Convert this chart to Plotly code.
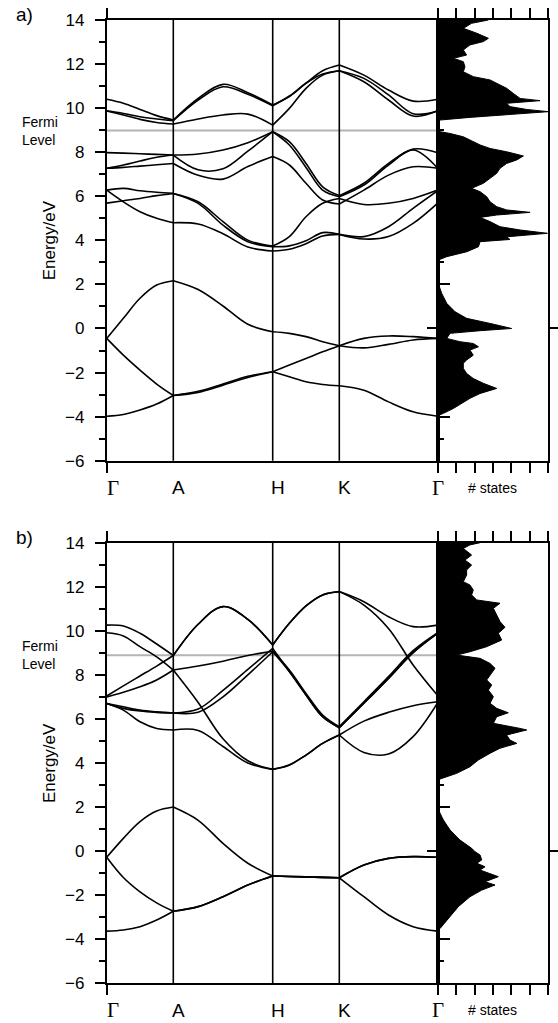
import plotly.graph_objects as go

W, H = 558, 1023

# ---------------- k-path (relative path length), 4 samples per segment ----------------
K_PATH = [0.0, 0.1665, 0.333, 0.4995, 0.666,
          0.9145, 1.163, 1.4115, 1.660,
          1.8265, 1.993, 2.1595, 2.326,
          2.572, 2.818, 3.064, 3.310]
K_NODES = [0.0, 0.666, 1.660, 2.326, 3.310]
K_LABELS = ["Γ", "A", "H", "K", "Γ"]
K_LABEL_SHIFT = [6, 5, 5, 5, 0]

E_RANGE = [-6, 14]
DOS_RANGE = [0, 6]
E_FERMI_A = 8.98
E_FERMI_B = 8.89

# ---------------- panel a) band energies (eV) along Γ-A-H-K-Γ ----------------
A_T1 = [10.40, 10.22, 9.94, 9.66, 9.46, 10.44, 11.08, 10.70, 10.14, 10.52, 11.13, 11.70, 11.96, 11.50, 10.82, 10.32, 10.40]
A_T2 = [9.88, 9.76, 9.61, 9.51, 9.43, 10.37, 10.97, 10.63, 10.11, 10.55, 11.13, 11.55, 11.70, 11.20, 10.37, 9.64, 9.88]
A_T3 = [9.87, 9.69, 9.49, 9.35, 9.28, 9.51, 9.69, 9.73, 9.23, 9.99, 10.90, 11.50, 11.70, 11.35, 10.60, 9.75, 9.87]
A_B1 = [7.98, 7.96, 7.93, 7.90, 7.87, 7.92, 8.10, 8.43, 8.93, 8.48, 7.49, 6.43, 6.03, 6.59, 7.49, 8.14, 7.98]
A_B2 = [7.27, 7.42, 7.60, 7.77, 7.87, 7.20, 7.25, 8.05, 8.93, 8.33, 7.31, 6.28, 5.98, 6.51, 7.42, 8.10, 7.27]
A_B3 = [7.27, 7.31, 7.37, 7.43, 7.49, 6.95, 6.78, 7.35, 7.80, 7.42, 6.59, 5.83, 5.65, 6.28, 6.96, 7.34, 7.27]
A_B4 = [6.28, 6.36, 6.25, 6.18, 6.13, 5.75, 4.85, 4.01, 3.74, 4.17, 5.07, 5.68, 5.90, 5.63, 5.68, 5.90, 6.28]
A_B5 = [5.69, 5.80, 5.90, 6.03, 6.13, 5.68, 4.69, 3.94, 3.71, 3.75, 3.98, 4.35, 4.27, 4.06, 4.17, 4.77, 5.69]
A_B6 = [6.28, 5.75, 5.30, 5.00, 4.80, 4.74, 4.30, 3.70, 3.52, 3.60, 3.85, 4.20, 4.27, 4.17, 4.62, 5.45, 6.25]
A_L1 = [-3.98, -3.90, -3.70, -3.43, -3.04, -2.90, -2.57, -2.22, -1.96, -2.19, -2.42, -2.54, -2.60, -2.80, -3.33, -3.78, -3.98]
A_L2 = [-0.45, -1.21, -1.89, -2.52, -3.04, -2.85, -2.52, -2.17, -1.96, -1.66, -1.36, -1.06, -0.78, -0.88, -0.72, -0.52, -0.45]
A_L3 = [-0.45, 0.46, 1.37, 1.97, 2.17, 1.77, 1.02, 0.19, -0.15, -0.22, -0.37, -0.60, -0.78, -0.45, -0.34, -0.37, -0.45]
BANDS_A = [A_T1, A_T2, A_T3, A_B1, A_B2, A_B3, A_B4, A_B5, A_B6, A_L1, A_L2, A_L3]

# ---------------- panel b) band energies (eV) ----------------
B_P1 = [10.26, 10.22, 9.89, 9.40, 8.88, 10.30, 11.10, 10.52, 9.36, 10.34, 11.13, 11.63, 11.78, 11.32, 10.64, 10.19, 10.26]
B_P2 = [9.91, 9.77, 9.28, 8.82, 8.22, 6.75, 5.10, 4.10, 3.71, 3.91, 4.36, 4.89, 5.27, 4.48, 4.41, 5.20, 6.74]
B_P3 = [7.04, 7.50, 7.95, 8.40, 8.88, 10.30, 11.10, 10.52, 9.36, 10.34, 11.13, 11.63, 11.78, 11.17, 10.11, 8.45, 7.06]
B_P4 = [7.00, 7.21, 7.46, 7.77, 8.22, 8.40, 8.62, 8.88, 9.08, 8.22, 7.16, 6.18, 5.65, 6.78, 7.92, 9.10, 9.92]
B_P5 = [6.70, 6.48, 6.36, 6.30, 6.27, 6.30, 7.00, 8.00, 9.05, 8.15, 7.09, 6.10, 5.60, 6.71, 7.84, 9.01, 9.89]
B_P6 = [6.70, 6.40, 5.87, 5.57, 5.50, 5.48, 4.75, 4.00, 3.71, 3.91, 4.36, 4.89, 5.27, 5.90, 6.30, 6.60, 6.78]
B_P7 = [6.70, 6.55, 6.40, 6.32, 6.27, 6.45, 7.30, 8.25, 9.20, 8.15, 7.09, 6.10, 5.60, 6.71, 7.84, 9.01, 9.89]
B_Q1 = [-3.63, -3.58, -3.43, -3.13, -2.73, -2.52, -2.07, -1.54, -1.13, -1.15, -1.17, -1.19, -1.21, -2.07, -2.90, -3.43, -3.63]
B_Q2 = [-0.28, -1.20, -1.85, -2.35, -2.73, -2.52, -2.07, -1.54, -1.13, -1.15, -1.17, -1.19, -1.21, -0.63, -0.33, -0.25, -0.28]
B_Q3 = [-0.28, 0.58, 1.34, 1.82, 2.00, 1.40, 0.35, -0.55, -1.13, -1.15, -1.17, -1.19, -1.21, -0.63, -0.33, -0.25, -0.28]
BANDS_B = [B_P1, B_P2, B_P3, B_P4, B_P5, B_P6, B_P7, B_Q1, B_Q2, B_Q3]

# ---------------- densities of states ----------------
DOS_A_E = [14.00, 13.85, 13.62, 13.40, 13.17, 13.02, 12.87, 12.64, 12.41, 12.26, 12.11, 11.88, 11.65, 11.43,
           11.28, 11.13, 10.90, 10.67, 10.44, 10.34, 10.22, 10.07, 9.94, 9.84, 9.73, 9.58, 9.46, 9.40,
           8.95, 8.93, 8.85, 8.70, 8.48, 8.33, 8.17, 8.02, 7.83, 7.65, 7.49, 7.27, 7.04, 6.81, 6.59,
           6.36, 6.21, 5.98, 5.75, 5.53, 5.38, 5.27, 5.15, 5.04, 4.85, 4.62, 4.47, 4.32, 4.16, 4.04,
           3.94, 3.71, 3.48, 3.26, 3.11, 3.03, 2.05, 2.02, 1.59, 1.14, 0.76, 0.46, 0.23, 0.00, -0.10,
           -0.22, -0.45, -0.60, -0.68, -0.83, -0.98, -1.21, -1.43, -1.58, -1.81, -2.04, -2.27, -2.49,
           -2.72, -2.95, -3.17, -3.40, -3.63, -3.85, -3.96, -6.00]
DOS_A_N = [2.75, 1.84, 1.39, 2.12, 2.75, 2.48, 1.75, 1.39, 1.57, 0.85, 1.39, 1.48, 1.39, 1.93,
           2.84, 3.20, 3.74, 4.10, 4.47, 5.55, 3.74, 3.92, 4.83, 6.00, 4.10, 1.75, 0.13, 0.0,
           0.0, 0.13, 0.67, 1.39, 1.93, 2.30, 2.84, 3.74, 4.65, 4.29, 3.74, 3.38, 3.20, 2.84, 2.48,
           1.84, 2.30, 2.66, 2.84, 3.20, 3.74, 5.01, 3.20, 2.30, 2.84, 3.38, 4.47, 5.95, 3.74, 3.92,
           2.30, 2.21, 1.57, 0.49, 0.04, 0.0, 0.0, 0.04, 0.22, 0.49, 0.94, 1.57, 2.84, 4.01, 2.30,
           0.67, 0.49, 1.21, 1.93, 2.21, 1.75, 1.93, 1.57, 1.39, 1.39, 1.57, 1.93, 2.48,
           3.20, 2.30, 1.75, 1.30, 0.85, 0.31, 0.0, 0.0]

DOS_B_E = [14.00, 13.90, 13.74, 13.44, 13.21, 12.99, 12.76, 12.53, 12.23, 12.08, 11.85, 11.63, 11.40,
           11.25, 11.02, 10.72, 10.42, 10.16, 9.89, 9.58, 9.28, 9.05, 8.90, 8.75, 8.52, 8.30, 8.07,
           7.77, 7.54, 7.31, 7.01, 6.71, 6.48, 6.28, 6.10, 5.80, 5.57, 5.50, 5.27, 5.04, 4.89, 4.67,
           4.44, 4.14, 3.83, 3.53, 3.30, 3.23, 1.94, 1.41, 0.96, 0.50, 0.13, -0.03, -0.18, -0.40,
           -0.55, -0.71, -0.86, -1.16, -1.39, -1.54, -1.77, -2.07, -2.52, -2.98, -3.28, -3.51, -3.58, -6.00]
DOS_B_N = [2.30, 1.75, 1.39, 1.84, 1.48, 1.84, 1.57, 1.57, 1.39, 1.75, 1.93, 1.84, 2.12,
           3.38, 3.02, 3.20, 3.38, 3.65, 3.29, 3.47, 2.66, 1.75, 1.03, 2.30, 2.84, 3.11, 2.93,
           2.66, 2.93, 2.75, 3.02, 2.84, 3.20, 3.83, 3.20, 3.02, 4.47, 4.83, 3.74, 3.92, 4.29, 3.38,
           2.84, 2.21, 1.75, 1.03, 0.22, 0.0, 0.0, 0.31, 0.67, 1.21, 1.84, 2.03, 2.30, 2.39,
           2.12, 2.57, 2.30, 3.29, 2.57, 3.11, 2.39, 1.75, 1.12, 0.67, 0.40, 0.13, 0.0, 0.0]

# ---------------- layout geometry (pixels in the 558x1023 page) ----------------
BAND_X = [106.7, 437.7]
DOS_X = [437.7, 548.3]
PANEL_Y = [[20.0, 460.7], [542.7, 983.3]]

SANS = "Liberation Sans, Arial, sans-serif"
SERIF = "Liberation Serif, Times New Roman, serif"
LW = 1.6


def xdom(px):
    return [px[0] / W, px[1] / W]


def ydom(py):
    return [1 - py[1] / H, 1 - py[0] / H]


fig = go.Figure()
layout = dict(width=W, height=H, autosize=False, margin=dict(l=0, r=0, t=0, b=0, pad=0, autoexpand=False),
              paper_bgcolor="white", plot_bgcolor="white", showlegend=False)
shapes, annotations = [], []

panels = [
    dict(bands=BANDS_A, dos_e=DOS_A_E, dos_n=DOS_A_N, ef=E_FERMI_A, letter="a)"),
    dict(bands=BANDS_B, dos_e=DOS_B_E, dos_n=DOS_B_N, ef=E_FERMI_B, letter="b)"),
]


def nm(a, n):
    return a if n == 1 else f"{a}{n}"


for i, p in enumerate(panels):
    xb, yb = 2 * i + 1, 3 * i + 1                  # band axes
    xd, yd, yz = 2 * i + 2, 3 * i + 2, 3 * i + 3   # DOS axes + zero-tick overlay
    xbr, ybr, xdr, ydr, yzr = nm("x", xb), nm("y", yb), nm("x", xd), nm("y", yd), nm("y", yz)
    dom_y = ydom(PANEL_Y[i])

    # bands: one trace per band per segment (keeps cusps at high-symmetry points)
    for band in p["bands"]:
        for s in range(4):
            fig.add_trace(go.Scatter(
                x=K_PATH[4 * s:4 * s + 5], y=band[4 * s:4 * s + 5], mode="lines",
                line=dict(color="black", width=LW, shape="spline", smoothing=1.0),
                xaxis=xbr, yaxis=ybr, hoverinfo="skip", showlegend=False))

    # DOS
    fig.add_trace(go.Scatter(
        x=p["dos_n"], y=p["dos_e"], mode="lines", fill="tozerox", fillcolor="black",
        line=dict(color="black", width=1), xaxis=xdr, yaxis=ydr, hoverinfo="skip", showlegend=False))
    fig.add_trace(go.Scatter(x=[], y=[], xaxis=xdr, yaxis=yzr, showlegend=False, hoverinfo="skip"))

    common = dict(showgrid=False, zeroline=False, linecolor="black", linewidth=LW,
                  tickcolor="black", tickwidth=LW, automargin=False)
    layout[nm("xaxis", xb)] = dict(
        domain=xdom(BAND_X), anchor=ybr, range=[K_PATH[0], K_PATH[-1]],
        tickvals=[K_NODES[0]], ticks="outside", ticklen=10, showticklabels=False,
        showline=True, mirror="ticks", **common)
    layout[nm("yaxis", yb)] = dict(
        domain=dom_y, anchor=xbr, range=E_RANGE, tick0=0, dtick=2, ticks="outside", ticklen=10,
        showline=True, mirror=True, ticklabelstandoff=7,
        tickfont=dict(family=SANS, size=17, color="black"),
        minor=dict(dtick=1, ticks="outside", ticklen=6, tickwidth=LW, tickcolor="black", showgrid=False),
        **common)
    layout[nm("xaxis", xd)] = dict(
        domain=xdom(DOS_X), anchor=ydr, range=DOS_RANGE, tick0=0, dtick=1, ticks="outside",
        ticklen=10, showticklabels=False, showline=True, mirror="ticks", **common)
    layout[nm("yaxis", yd)] = dict(
        domain=dom_y, anchor=xdr, range=E_RANGE, tick0=0, dtick=2, ticks="inside", ticklen=12,
        showticklabels=False, showline=True, mirror=True,
        minor=dict(dtick=1, ticks="inside", ticklen=6, tickwidth=LW, tickcolor="black", showgrid=False),
        **common)
    layout[nm("yaxis", yz)] = dict(
        overlaying=ydr, anchor=xdr, range=E_RANGE, tickvals=[0], ticks="outside", ticklen=10,
        showticklabels=False, showline=False, mirror="ticks", showgrid=False, zeroline=False,
        tickcolor="black", tickwidth=LW, automargin=False)

    # high-symmetry vertical lines
    for kx in K_NODES[1:-1]:
        shapes.append(dict(type="line", xref=xbr, yref=f"{ybr} domain", x0=kx, x1=kx, y0=0, y1=1,
                           line=dict(color="black", width=LW)))
    # Fermi level
    shapes.append(dict(type="line", xref=xbr, yref=ybr, x0=K_PATH[0], x1=K_PATH[-1],
                       y0=p["ef"], y1=p["ef"], line=dict(color="#b4b4b4", width=2), layer="below"))

    # k labels
    for kx, lab, sh in zip(K_NODES, K_LABELS, K_LABEL_SHIFT):
        fam, sz = (SERIF, 21) if lab == "Γ" else (SANS, 19)
        annotations.append(dict(text=lab, xref=xbr, yref=f"{ybr} domain", x=kx, y=0,
                                xshift=sh, yshift=-27, xanchor="center", yanchor="middle",
                                showarrow=False, font=dict(family=fam, size=sz, color="black")))
    annotations.append(dict(text="# states", xref=f"{xdr} domain", yref=f"{ydr} domain", x=0.5, y=0,
                            yshift=-27, xanchor="center", yanchor="middle", showarrow=False,
                            font=dict(family=SANS, size=14, color="black")))
    # axis title
    annotations.append(dict(text="Energy/eV", xref="paper", yref=f"{ybr} domain", x=49 / W, y=0.5,
                            textangle=-90, xanchor="center", yanchor="middle", showarrow=False,
                            font=dict(family=SANS, size=17, color="black")))
    # Fermi level label
    annotations.append(dict(text="Fermi<br>Level", xref="paper", yref=ybr, x=20 / W, y=p["ef"],
                            xanchor="left", yanchor="middle", align="left", showarrow=False,
                            font=dict(family=SANS, size=14, color="black")))
    # panel letter
    annotations.append(dict(text=p["letter"], xref="paper", yref="paper", x=24 / W,
                            y=1 - (PANEL_Y[i][0] - 5) / H, xanchor="center", yanchor="middle",
                            showarrow=False, font=dict(family=SANS, size=19, color="black")))

layout["shapes"] = shapes
layout["annotations"] = annotations
fig.update_layout(**layout)
fig.write_html("out.html",
               config={"displayModeBar": False, "responsive": False},
               post_script="document.body.style.margin='0px';document.body.style.padding='0px';"
                           "document.documentElement.style.overflow='hidden';")
